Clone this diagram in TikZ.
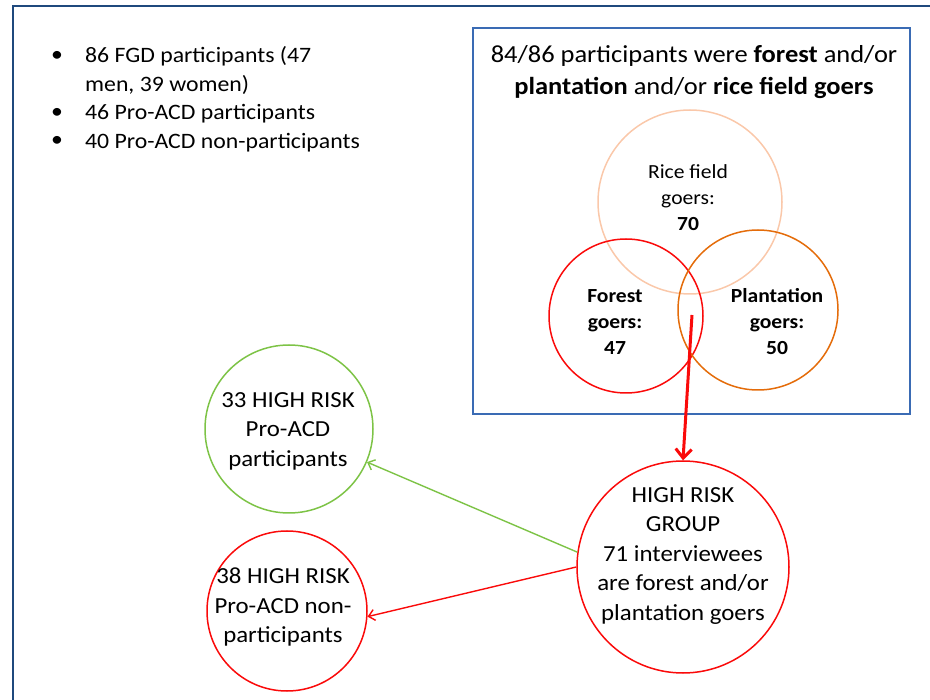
\documentclass[tikz,border=0pt]{standalone}
\usepackage{fontspec}
\setmainfont{Carlito}[FakeStretch=1.08]
\usetikzlibrary{arrows.meta}
\definecolor{frameblue}{RGB}{31,73,125}
\definecolor{boxblue}{RGB}{58,107,180}
\definecolor{peach}{RGB}{250,200,170}
\definecolor{myred}{RGB}{250,10,10}
\definecolor{myorange}{RGB}{228,108,10}
\definecolor{mygreen}{RGB}{125,195,70}
\begin{document}
\begin{tikzpicture}[x=1pt,y=-1pt,
  ring/.style={circle,draw,line width=1.5pt,inner sep=0pt,minimum size=#1},
  txt/.style={align=center,inner sep=0pt,text=black},
  vtxt/.style={txt,font=\fontsize{20}{26}\selectfont},
  btxt/.style={txt,font=\fontsize{23}{29.5}\selectfont},
  thinarrow/.style={line width=1.4pt,-{Straight Barb[length=6pt,width=11pt]}}
]
\useasboundingbox (0,0) rectangle (930,700);
% outer frame
\draw[frameblue,line width=2.5pt] (13,700) -- (13,6) -- (930,6);
% bullets
\node[anchor=west,inner sep=0pt,align=left,font=\fontsize{22}{28.5}\selectfont] (blist) at (85,99)
  {86 FGD participants (47\\men, 39 women)\\46 Pro-ACD participants\\40 Pro-ACD non-participants};
\node[anchor=west,inner sep=0pt,align=left,font=\fontsize{22}{28.5}\selectfont] (bdots) at (51,99)
  {•\\\strut\\•\\•};
% box
\node[draw=boxblue,line width=1.5pt,minimum width=437pt,minimum height=386pt,inner sep=0pt] (box) at (691.5,221) {};
\node[txt,font=\fontsize{24.5}{32}\selectfont] (title) at (694,72)
  {84/86 participants were \textbf{forest} and/or\\\textbf{plantation} and/or \textbf{rice field goers}};
% venn
\node[ring=184pt,draw=peach] (rice) at (690,202) {};
\node[ring=154pt,draw=myred] (forest) at (626,316) {};
\node[ring=160pt,draw=myorange] (plant) at (758,310) {};
\node[vtxt] (ricet) at (688,198) {Rice field\\goers:\\\textbf{70}};
\node[vtxt,font=\fontsize{20}{26}\selectfont\bfseries] (forestt) at (615,322) {Forest\\goers:\\47};
\node[vtxt,font=\fontsize{20}{26}\selectfont\bfseries] (plantt) at (777,322) {Plantation\\goers:\\50};
% high risk group
\node[ring=212pt,draw=myred] (hr) at (683,567) {};
\node[btxt] (hrt) at (683,556) {HIGH RISK\\GROUP\\71 interviewees\\are forest and/or\\plantation goers};
\node[ring=168pt,draw=mygreen] (part) at (289,429) {};
\node[btxt] (partt) at (288,431) {33 HIGH RISK\\Pro-ACD\\participants};
\node[ring=160pt,draw=myred] (non) at (287,611) {};
\node[btxt] (nont) at (283,607) {38 HIGH RISK\\Pro-ACD non-\\participants};
% arrows
\coordinate (vstart) at (692,315);
\draw[myred,line width=3pt,-{Straight Barb[length=9pt,width=16pt]}] (vstart) -- (hr.north);
\draw[mygreen,thinarrow] (hr.172) -- (part.-23);
\draw[myred,thinarrow] (hr.180) -- (non.-4);
\end{tikzpicture}
\end{document}
